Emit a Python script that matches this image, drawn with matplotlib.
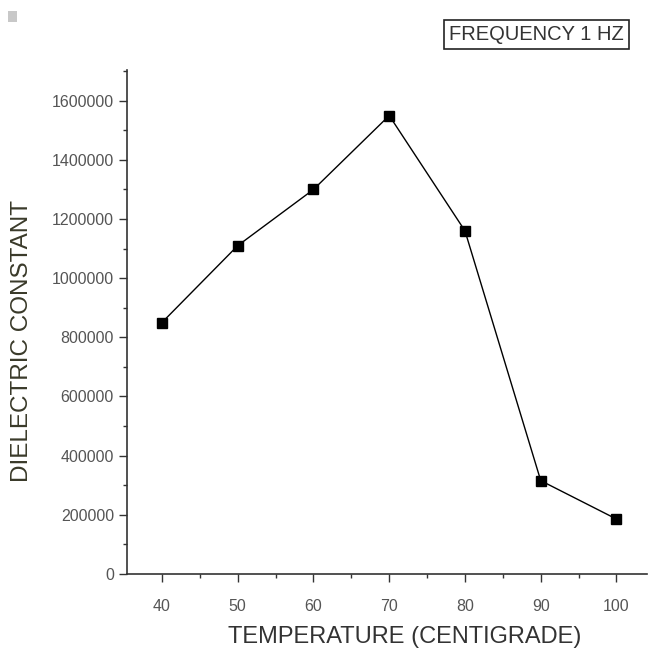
import matplotlib
matplotlib.use('Agg')
import matplotlib.pyplot as plt
from matplotlib.ticker import MultipleLocator, FormatStrFormatter

plt.rcParams['font.family'] = ['Liberation Sans', 'DejaVu Sans']

temperature = [40, 50, 60, 70, 80, 90, 100]
dielectric = [850000, 1110000, 1300000, 1550000, 1160000, 315000, 185000]

fig = plt.figure(figsize=(6.52, 6.52), dpi=100)
ax = fig.add_axes([0.195, 0.12, 0.797, 0.773])

ax.plot(temperature, dielectric, color='black', linewidth=1.0,
        marker='s', markersize=7, markerfacecolor='black')

ax.set_xlim(35.4, 104)
ax.set_ylim(0, 1705000)
ax.xaxis.set_major_locator(MultipleLocator(10))
ax.xaxis.set_minor_locator(MultipleLocator(5))
ax.yaxis.set_major_locator(MultipleLocator(200000))
ax.yaxis.set_minor_locator(MultipleLocator(100000))
ax.yaxis.set_major_formatter(FormatStrFormatter('%d'))

for side in ['top', 'right']:
    ax.spines[side].set_visible(False)
for side in ['left', 'bottom']:
    ax.spines[side].set_linewidth(1.2)
    ax.spines[side].set_color('#333333')

ax.tick_params(which='major', direction='out', length=6, width=1, colors='#333333',
               labelcolor='#555555', labelsize=11.5)
ax.tick_params(axis='x', which='major', pad=12)
ax.tick_params(which='minor', direction='out', length=3, width=1, colors='#333333')

ax.set_xlabel('TEMPERATURE (CENTIGRADE)', fontsize=17, color='#333333')
ax.set_ylabel('DIELECTRIC CONSTANT', fontsize=17.5, color='#3a3a2a')
ax.xaxis.set_label_coords(0.535, -0.104)
ax.yaxis.set_label_coords(-0.182, 0.462)

fig.text(0.823, 0.947, 'FREQUENCY 1 HZ', fontsize=14.5, color='#333333',
         ha='center', va='center',
         bbox=dict(boxstyle='square,pad=0.25', facecolor='white',
                   edgecolor='#222222', linewidth=1.2))

# small grey mark in the corner of the original image
fig.patches.append(plt.Rectangle((0.012, 0.967), 0.014, 0.016, transform=fig.transFigure,
                                 facecolor='#c8c8c8', edgecolor='none'))

plt.savefig('out.png')
plt.close()
